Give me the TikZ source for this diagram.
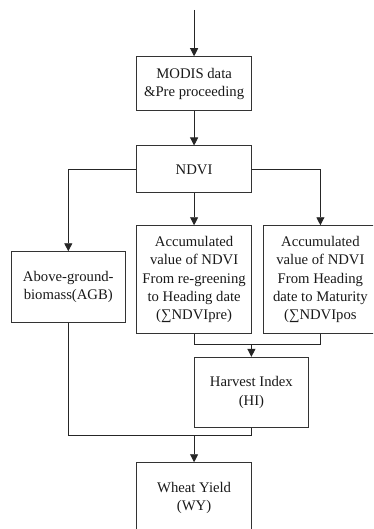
\documentclass[tikz,border=0pt]{standalone}
\usepackage{fontspec}
\setmainfont{Liberation Serif}
\usetikzlibrary{arrows.meta}
\tikzset{
  boxnode/.style={draw=black!80, line width=0.9pt, inner sep=0pt, align=center,
    font=\fontsize{14.7pt}{18.3pt}\selectfont, text=black!90},
  conn/.style={draw=black!85, line width=0.9pt},
  arr/.style={conn, -{Triangle[width=8pt,length=8pt]}}
}
\begin{document}
\begin{tikzpicture}[x=1pt,y=-1pt]
\clip (0,0) rectangle (373,529);
\node[boxnode, minimum width=114.8pt, minimum height=54pt] (modis) at (194.1,83.7) {MODIS data\\\&Pre proceeding};
\node[boxnode, minimum width=114.8pt, minimum height=46.7pt] (ndvi) at (194.1,169.3) {NDVI};
\node[boxnode, minimum width=114.7pt, minimum height=70.6pt] (agb) at (68.3,287) {Above-ground-\\biomass(AGB)};
\node[boxnode, minimum width=114.8pt, minimum height=107.8pt] (acc1) at (194.1,279.6) {Accumulated\\value of NDVI\\From re-greening\\to Heading date\\(∑NDVIpre)};
\node[boxnode, minimum width=114.8pt, minimum height=107.8pt] (acc2) at (320.4,279.6) {Accumulated\\value of NDVI\\From Heading\\date to Maturity\\(∑NDVIpos};
\node[boxnode, minimum width=114.7pt, minimum height=70.4pt] (hi) at (251.4,392.5) {Harvest Index\\(HI)};
\node[boxnode, minimum width=114.8pt, minimum height=70.4pt] (wy) at (194.1,497.9) {Wheat Yield\\(WY)};
\coordinate (top) at (194.1,10);
\coordinate (j1) at (194.1,344.5);
\coordinate (j2) at (68.3,435.7);
\draw[arr] (top) -- (modis.north);
\draw[arr] (modis.south) -- (ndvi.north);
\draw[arr] (ndvi.west) -| (agb.north);
\draw[arr] (ndvi.south) -- (acc1.north);
\draw[arr] (ndvi.east) -| (acc2.north);
\draw[conn] (acc1.south) -- (acc1.south |- j1) -- (acc2.south |- j1) -- (acc2.south);
\draw[arr] (hi.north |- j1) -- (hi.north);
\draw[conn] (agb.south) -- (agb.south |- j2) -- (hi.south |- j2) -- (hi.south);
\draw[arr] (wy.north |- j2) -- (wy.north);
\end{tikzpicture}
\end{document}
